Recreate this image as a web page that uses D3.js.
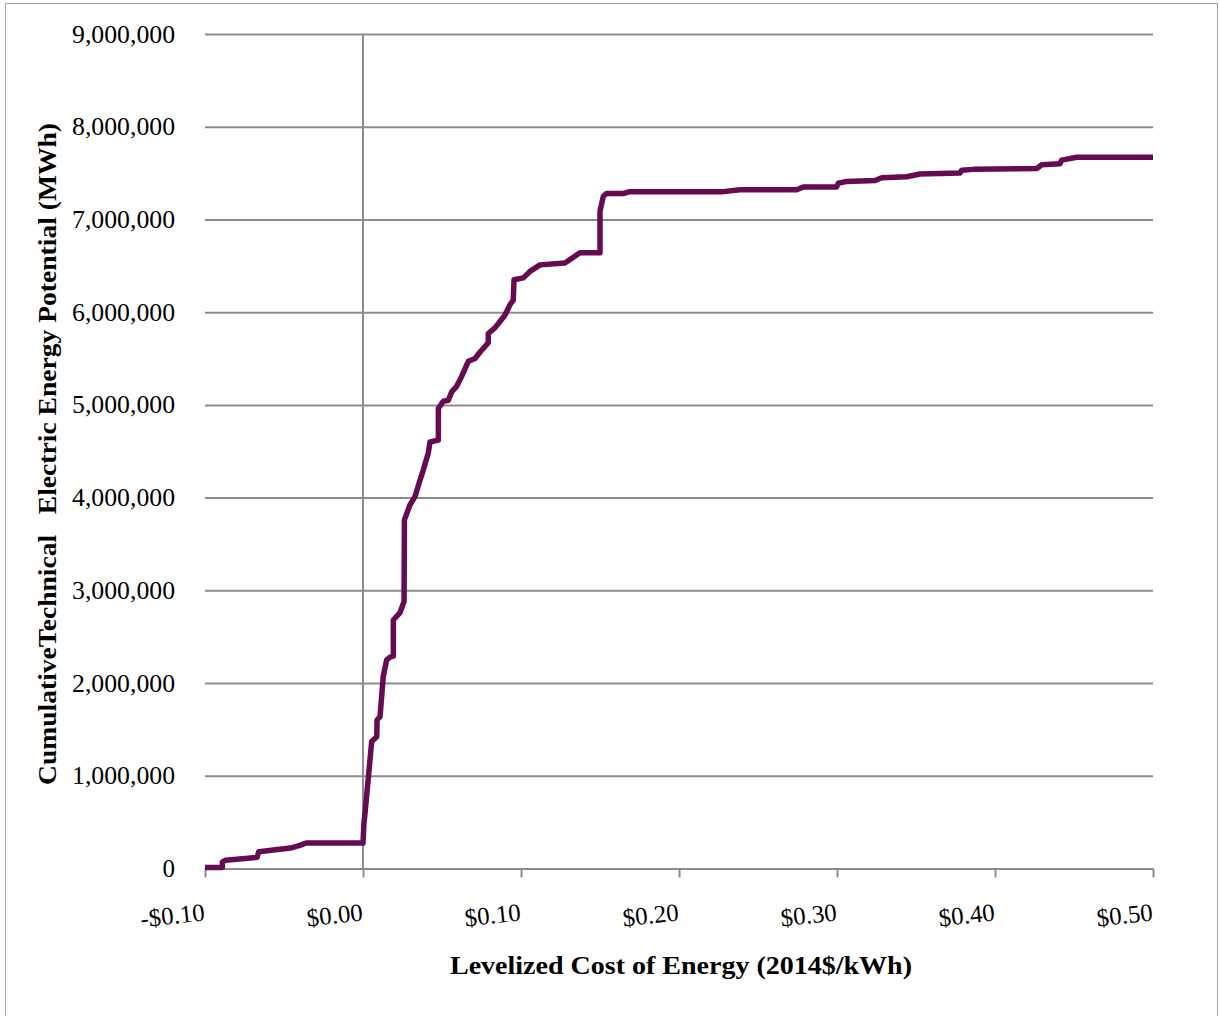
<!DOCTYPE html>
<html>
<head>
<meta charset="utf-8">
<script src="https://cdn.jsdelivr.net/npm/d3@7"></script>
<style>
  html, body { margin: 0; padding: 0; background: #fff; }
  svg { display: block; }
  text { font-family: "Liberation Serif", "DejaVu Serif", serif; fill: #000; }
</style>
</head>
<body>
<svg id="chart" width="1220" height="1016"></svg>
<script>
// ---- Data ----
// Levelized cost of energy ($/kWh) at each vertex of the supply curve
const lcoe = [
  -0.100, -0.089, -0.089, -0.087, -0.067, -0.066, -0.046, -0.040, -0.036, 0.000,
  0.0006, 0.0013, 0.0055, 0.0087, 0.0089, 0.0108, 0.0128, 0.0150, 0.0171, 0.0192,
  0.0192, 0.0234, 0.0260, 0.0262, 0.0297, 0.0329, 0.0361, 0.0382, 0.0413, 0.0424,
  0.0477, 0.0477, 0.0508, 0.0540, 0.0561, 0.0593, 0.0625, 0.0656, 0.0667, 0.0709,
  0.0741, 0.0772, 0.0793, 0.0793, 0.0835, 0.0867, 0.0899, 0.0930, 0.0951, 0.0956,
  0.1015, 0.1057, 0.1120, 0.1278, 0.1373, 0.1500, 0.1500, 0.1521, 0.1542, 0.1647,
  0.1690, 0.2280, 0.2386, 0.2745, 0.2787, 0.2998, 0.3008, 0.3061, 0.3241, 0.3283,
  0.3441, 0.3525, 0.3778, 0.3789, 0.3863, 0.4264, 0.4296, 0.4411, 0.4422, 0.4517,
  0.5000
];
// Cumulative technical electric energy potential (MWh)
const cumulativeMWh = [
  10000, 10000, 70000, 90000, 120000, 180000, 220000, 250000, 275000, 275000,
  490000, 600000, 1370000, 1420000, 1600000, 1640000, 2070000, 2250000, 2280000, 2290000,
  2680000, 2760000, 2880000, 3760000, 3920000, 4010000, 4190000, 4300000, 4480000, 4600000,
  4620000, 4960000, 5040000, 5050000, 5140000, 5200000, 5310000, 5430000, 5470000, 5500000,
  5570000, 5630000, 5670000, 5770000, 5830000, 5900000, 5970000, 6080000, 6130000, 6350000,
  6370000, 6440000, 6510000, 6530000, 6640000, 6640000, 7090000, 7250000, 7280000, 7280000,
  7300000, 7300000, 7320000, 7320000, 7350000, 7350000, 7390000, 7410000, 7420000, 7450000,
  7460000, 7490000, 7500000, 7530000, 7540000, 7550000, 7590000, 7600000, 7640000, 7670000,
  7670000
];
const xTicks = [-0.10, 0.00, 0.10, 0.20, 0.30, 0.40, 0.50];
const xTickLabels = ["-$0.10", "$0.00", "$0.10", "$0.20", "$0.30", "$0.40", "$0.50"];
const yTicks = [0, 1000000, 2000000, 3000000, 4000000, 5000000, 6000000, 7000000, 8000000, 9000000];
const xTitle = "Levelized Cost of Energy (2014$/kWh)";
const yTitle = "CumulativeTechnical   Electric Energy Potential (MWh)";

// ---- Layout ----
const svg = d3.select("#chart");
const plot = { left: 205, right: 1153, top: 34, bottom: 868.5 };
const gridColor = "#8c8c8c";
const lineColor = "#660a52";

const x = d3.scaleLinear().domain([-0.10, 0.50]).range([plot.left, plot.right]);
const y = d3.scaleLinear().domain([0, 9000000]).range([plot.bottom, plot.top]);

// outer border
svg.append("rect")
  .attr("x", 5.5).attr("y", 3.5).attr("width", 1212).attr("height", 1030)
  .attr("fill", "none").attr("stroke", "#a6a6a6").attr("stroke-width", 1);

// horizontal gridlines + y labels via axis
const yAxis = d3.axisLeft(y).tickValues(yTicks)
  .tickSize(-(plot.right - plot.left)).tickPadding(30)
  .tickFormat(d3.format(","));
const gy = svg.append("g").attr("transform", `translate(${plot.left},0)`).call(yAxis);
gy.select(".domain").remove();
gy.selectAll(".tick line").attr("stroke", gridColor).attr("stroke-width", 2);
gy.selectAll(".tick text")
  .attr("font-size", 25).attr("fill", "#000")
  .attr("textLength", d => d === 0 ? null : 103)
  .attr("lengthAdjust", "spacingAndGlyphs")
  .style("font-family", '"Liberation Serif", serif');

// vertical axis line at x = 0
svg.append("line")
  .attr("x1", x(0)).attr("x2", x(0))
  .attr("y1", plot.top).attr("y2", plot.bottom)
  .attr("stroke", gridColor).attr("stroke-width", 2);

// x axis with downward ticks
const gx = svg.append("g").attr("transform", `translate(0,${plot.bottom})`)
  .call(d3.axisBottom(x).tickValues(xTicks).tickSize(9).tickFormat((d, i) => xTickLabels[i]));
gx.select(".domain").remove();
gx.selectAll(".tick line").attr("stroke", gridColor).attr("stroke-width", 2);
gx.selectAll(".tick text")
  .attr("font-size", 25).attr("fill", "#000")
  .attr("text-anchor", "end")
  .attr("x", 0).attr("y", 0).attr("dy", 0)
  .attr("transform", "translate(0,52) rotate(-6)")
  .style("font-family", '"Liberation Serif", serif');

// supply curve
const pts = lcoe.map((v, i) => [v, cumulativeMWh[i]]);
svg.append("path")
  .datum(pts)
  .attr("fill", "none")
  .attr("stroke", lineColor)
  .attr("stroke-width", 5.5)
  .attr("stroke-linejoin", "round")
  .attr("stroke-linecap", "butt")
  .attr("d", d3.line().x(d => x(d[0])).y(d => y(d[1])));

// axis titles
svg.append("text")
  .attr("x", 681).attr("y", 974)
  .attr("text-anchor", "middle")
  .attr("font-size", 25).attr("font-weight", "bold")
  .attr("textLength", 462).attr("lengthAdjust", "spacingAndGlyphs")
  .text(xTitle);

svg.append("text")
  .attr("transform", "translate(56,454) rotate(-90)")
  .attr("text-anchor", "middle")
  .attr("font-size", 25).attr("font-weight", "bold")
  .attr("textLength", 662).attr("lengthAdjust", "spacingAndGlyphs")
  .style("white-space", "pre")
  .text(yTitle);
</script>
</body>
</html>
